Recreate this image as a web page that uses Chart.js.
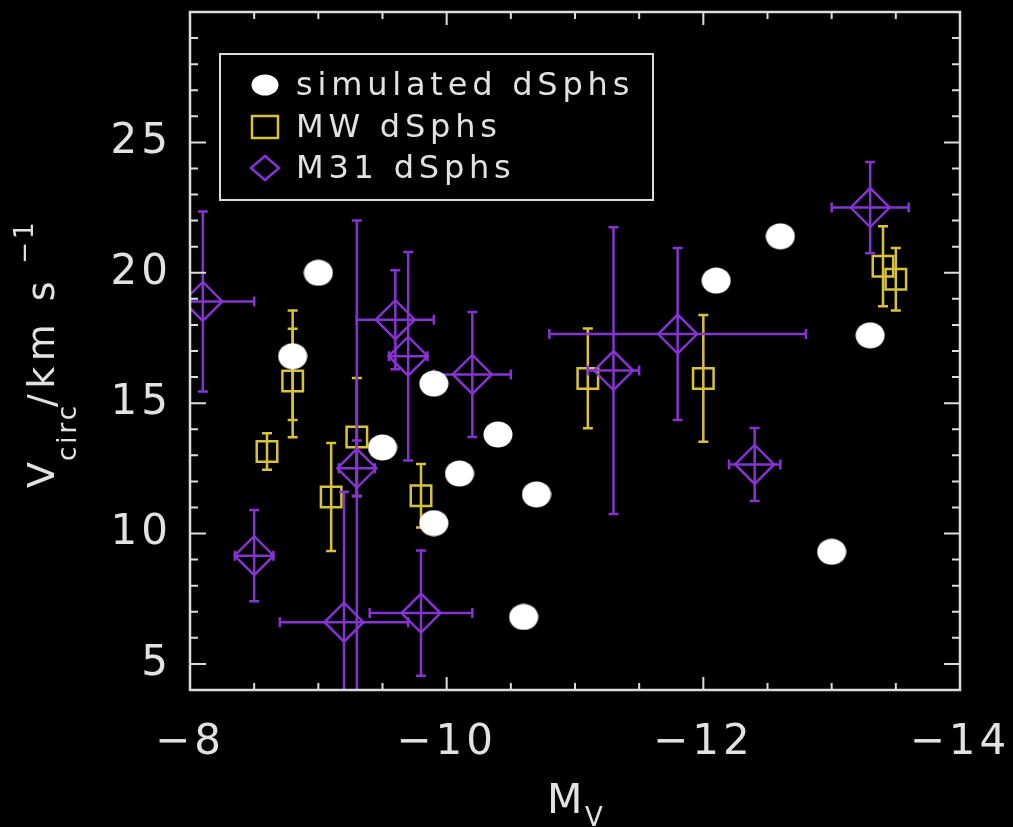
<!DOCTYPE html>
<html>
<head>
<meta charset="utf-8">
<title>Vcirc vs Mv</title>
<script src="https://cdn.jsdelivr.net/npm/chart.js@4.4.0/dist/chart.umd.min.js"></script>
<style>
  body { margin: 0; background: #000; }
  #wrap { width: 1013px; height: 827px; position: relative; }
</style>
</head>
<body>
<div id="wrap"><canvas id="ch1"></canvas></div>
<script>
// simulated dSphs (white dots)
var simMv = [-9.0, -8.8, -9.5, -9.9, -9.9, -10.1, -10.4, -10.7, -10.6, -12.1, -12.6, -13.3, -13.0];
var simV  = [20.0, 16.8, 13.3, 15.75, 10.4, 12.3, 13.8, 11.5, 6.8, 19.7, 21.4, 17.6, 9.3];

// MW dSphs, errors only in Vcirc (up / down), one point has a second (inner) bar
var mwMv       = [-8.6, -8.8, -9.1, -9.3, -9.8, -11.1, -12.0, -13.4, -13.5];
var mwV        = [13.15, 15.85, 11.4, 13.7, 11.45, 15.95, 15.95, 20.25, 19.75];
var mwErrUp    = [0.7, 2.7, 2.07, 2.26, 1.22, 1.91, 2.43, 1.53, 1.2];
var mwErrDown  = [0.7, 2.16, 2.07, 2.26, 1.22, 1.91, 2.43, 1.53, 1.2];
var mwErrUp2   = [null, 2.0, null, null, null, null, null, null, null];
var mwErrDown2 = [null, 1.5, null, null, null, null, null, null, null];

// M31 dSphs, errors in both
var m31Mv     = [-8.1, -8.5, -9.2, -9.3, -9.6, -9.7, -10.2, -11.3, -11.8, -12.4, -13.3, -9.8];
var m31V      = [18.9, 9.15, 6.6, 12.5, 18.2, 16.8, 16.1, 16.25, 17.65, 12.65, 22.5, 6.95];
var m31ErrMv  = [0.4, 0.15, 0.5, 0.14, 0.3, 0.15, 0.3, 0.2, 1.0, 0.2, 0.3, 0.4];
var m31ErrV   = [3.45, 1.75, 5.0, 9.5, 1.9, 4.0, 2.4, 5.5, 3.3, 1.4, 1.75, 2.4];
var m31ErrV2  = [null, null, null, 1.07, null, null, null, null, null, null, null, null];

// labelled ticks (rest are minor)
var xTicks = [-8, -10, -12, -14];
var yTicks = [5, 10, 15, 20, 25];

var legendNames = ['simulated dSphs', 'MW dSphs', 'M31 dSphs'];

var fam = "'DejaVu Sans', sans-serif";
var txtCol = '#e2e2e2';
var axCol = '#dcdcdc';
var yellow = '#d8c23a';
var purple = '#8534d2';

function pts(xs, ys) {
  var out = [];
  for (var i = 0; i < xs.length; i++) out.push({x: xs[i], y: ys[i]});
  return out;
}

// white ellipse used as point style (dots are a bit wider than tall)
function makeDot(w, h) {
  var c = document.createElement('canvas');
  c.width = w; c.height = h;
  var g = c.getContext('2d');
  g.fillStyle = '#ffffff';
  g.beginPath();
  g.ellipse(w / 2, h / 2, w / 2 - 0.5, h / 2 - 0.5, 0, 0, Math.PI * 2);
  g.fill();
  return c;
}
var dot = makeDot(30, 27);
var legDot = makeDot(28, 22);

function vbar(ctx, x, y1, y2, cap) {
  ctx.beginPath();
  ctx.moveTo(x, y1); ctx.lineTo(x, y2);
  ctx.moveTo(x - cap, y1); ctx.lineTo(x + cap, y1);
  ctx.moveTo(x - cap, y2); ctx.lineTo(x + cap, y2);
  ctx.stroke();
}
function hbar(ctx, y, x1, x2, cap) {
  ctx.beginPath();
  ctx.moveTo(x1, y); ctx.lineTo(x2, y);
  ctx.moveTo(x1, y - cap); ctx.lineTo(x1, y + cap);
  ctx.moveTo(x2, y - cap); ctx.lineTo(x2, y + cap);
  ctx.stroke();
}

// error bars, drawn right after each dataset so the layering stays the same
var errPlugin = {
  id: 'errbars',
  afterDatasetDraw: function(chart, args) {
    var ds = chart.data.datasets[args.index];
    if (!ds.errUp && !ds.errX) return;
    var ctx = chart.ctx, xs = chart.scales.x, ys = chart.scales.y, a = chart.chartArea;
    ctx.save();
    ctx.beginPath();
    ctx.rect(a.left, a.top, a.right - a.left, a.bottom - a.top);
    ctx.clip();
    ctx.strokeStyle = ds.borderColor;
    ctx.lineWidth = 2.5;
    ds.data.forEach(function(p, i) {
      var px = xs.getPixelForValue(p.x);
      var py = ys.getPixelForValue(p.y);
      if (ds.errUp) {
        vbar(ctx, px, ys.getPixelForValue(p.y + ds.errUp[i]), ys.getPixelForValue(p.y - ds.errDown[i]), 5);
        if (ds.errUp2 && ds.errUp2[i] != null)
          vbar(ctx, px, ys.getPixelForValue(p.y + ds.errUp2[i]), ys.getPixelForValue(p.y - ds.errDown2[i]), 5);
      }
      if (ds.errX) {
        hbar(ctx, py, xs.getPixelForValue(p.x - ds.errX[i]), xs.getPixelForValue(p.x + ds.errX[i]), 5);
        vbar(ctx, px, ys.getPixelForValue(p.y + ds.errY[i]), ys.getPixelForValue(p.y - ds.errY[i]), 5);
        if (ds.errY2 && ds.errY2[i] != null)
          vbar(ctx, px, ys.getPixelForValue(p.y + ds.errY2[i]), ys.getPixelForValue(p.y - ds.errY2[i]), 5);
      }
    });
    ctx.restore();
  }
};

// black bg + frame with inward ticks on all 4 sides, titles, legend box
var framePlugin = {
  id: 'frame',
  beforeDraw: function(chart) {
    var ctx = chart.ctx;
    ctx.save();
    ctx.fillStyle = '#000';
    ctx.fillRect(0, 0, chart.width, chart.height);
    ctx.restore();
    ctx.letterSpacing = '4px'; // tick labels are spaced out in the original
  },
  afterDraw: function(chart) {
    var ctx = chart.ctx, a = chart.chartArea, xs = chart.scales.x, ys = chart.scales.y;
    ctx.save();
    ctx.strokeStyle = axCol;
    ctx.lineWidth = 2.5;
    ctx.strokeRect(a.left, a.top, a.right - a.left, a.bottom - a.top);
    ctx.lineWidth = 2;
    ctx.beginPath();
    xs.ticks.forEach(function(t) {
      var px = xs.getPixelForValue(t.value);
      var len = xTicks.indexOf(t.value) >= 0 ? 13 : 7;
      ctx.moveTo(px, a.bottom); ctx.lineTo(px, a.bottom - len);
      ctx.moveTo(px, a.top); ctx.lineTo(px, a.top + len);
    });
    ys.ticks.forEach(function(t) {
      var py = ys.getPixelForValue(t.value);
      var len = yTicks.indexOf(t.value) >= 0 ? 16 : 8;
      ctx.moveTo(a.left, py); ctx.lineTo(a.left + len, py);
      ctx.moveTo(a.right, py); ctx.lineTo(a.right - len, py);
    });
    ctx.stroke();

    // x title M_V
    ctx.fillStyle = txtCol;
    ctx.textBaseline = 'alphabetic';
    ctx.textAlign = 'left';
    ctx.letterSpacing = '3px';
    ctx.font = '41px ' + fam;
    ctx.fillText('M', 547, 813);
    ctx.font = '26px ' + fam;
    ctx.fillText('V', 585, 826);

    // y title V_circ/km s^-1, rotated
    ctx.save();
    ctx.translate(54, 356);
    ctx.rotate(-Math.PI / 2);
    var lx = -132;
    ctx.font = '38px ' + fam;
    ctx.fillText('V', lx, 0);
    lx += ctx.measureText('V').width - 2;
    ctx.font = '26px ' + fam;
    ctx.fillText('circ', lx, 22);
    lx += ctx.measureText('circ').width - 4;
    ctx.letterSpacing = '5.5px';
    ctx.font = '38px ' + fam;
    ctx.fillText('/km s', lx, 0);
    lx += ctx.measureText('/km s').width + 12;
    ctx.letterSpacing = '3px';
    ctx.font = '26px ' + fam;
    ctx.fillText('\u22121', lx, -21);
    ctx.restore();

    // legend
    var lgX = a.left + 30, lgY = a.top + 42;
    ctx.strokeStyle = axCol;
    ctx.lineWidth = 2;
    ctx.strokeRect(lgX, lgY, 433, 146);
    var mx = lgX + 45;
    ctx.drawImage(legDot, mx - 14, lgY + 31 - 11);
    ctx.strokeStyle = yellow;
    ctx.lineWidth = 2.5;
    ctx.strokeRect(mx - 13, lgY + 73 - 11, 26, 22);
    ctx.strokeStyle = purple;
    ctx.beginPath();
    ctx.moveTo(mx - 14, lgY + 114); ctx.lineTo(mx, lgY + 102);
    ctx.lineTo(mx + 14, lgY + 114); ctx.lineTo(mx, lgY + 126);
    ctx.closePath();
    ctx.stroke();
    ctx.fillStyle = txtCol;
    ctx.font = '32px ' + fam;
    ctx.letterSpacing = '4.8px';
    ctx.fillText(legendNames[0], lgX + 76, lgY + 41);
    ctx.fillText(legendNames[1], lgX + 76, lgY + 83);
    ctx.fillText(legendNames[2], lgX + 76, lgY + 124);
    ctx.restore();
  }
};

var chart = new Chart(document.getElementById('ch1').getContext('2d'), {
  type: 'scatter',
  data: {
    datasets: [{
      label: legendNames[0],
      data: pts(simMv, simV),
      pointStyle: dot,
      borderColor: '#ffffff',
      backgroundColor: '#ffffff',
      order: 0,
      clip: 0
    }, {
      label: legendNames[1],
      data: pts(mwMv, mwV),
      pointStyle: 'rect',
      pointRadius: 14.5,
      pointBorderWidth: 2.5,
      borderColor: yellow,
      backgroundColor: 'rgba(0,0,0,0)',
      errUp: mwErrUp, errDown: mwErrDown,
      errUp2: mwErrUp2, errDown2: mwErrDown2,
      order: 2,
      clip: 0
    }, {
      label: legendNames[2],
      data: pts(m31Mv, m31V),
      pointStyle: 'rectRot',
      pointRadius: 19.5,
      pointBorderWidth: 2.5,
      borderColor: purple,
      backgroundColor: 'rgba(0,0,0,0)',
      errX: m31ErrMv, errY: m31ErrV, errY2: m31ErrV2,
      order: 1,
      clip: 0
    }]
  },
  options: {
    responsive: true,
    maintainAspectRatio: false,
    animation: false,
    // autoPadding off, otherwise the big diamonds push the plot top down
    layout: { autoPadding: false, padding: { left: 0, top: 12, right: 53, bottom: 0 } },
    plugins: { legend: { display: false }, tooltip: { enabled: false } },
    scales: {
      x: {
        type: 'linear', reverse: true, min: -14, max: -8,
        grid: { display: false, drawTicks: false },
        border: { display: false },
        ticks: {
          stepSize: 0.5, autoSkip: false, maxRotation: 0, padding: 28,
          color: txtCol, font: { family: fam, size: 42 },
          callback: function(v) { return xTicks.indexOf(v) >= 0 ? '\u2212' + Math.abs(v) : ''; }
        },
        afterFit: function(s) {
          s.height = 137;
          s.paddingLeft = 0; s.paddingRight = 0; s.paddingTop = 0; s.paddingBottom = 0;
        }
      },
      y: {
        type: 'linear', min: 4, max: 30,
        grid: { display: false, drawTicks: false },
        border: { display: false },
        ticks: {
          stepSize: 1, autoSkip: false, padding: 18,
          color: txtCol, font: { family: fam, size: 42 },
          callback: function(v) { return yTicks.indexOf(v) >= 0 ? String(v) : ''; }
        },
        afterFit: function(s) {
          s.width = 190;
          s.paddingLeft = 0; s.paddingRight = 0; s.paddingTop = 0; s.paddingBottom = 0;
        }
      }
    }
  },
  plugins: [errPlugin, framePlugin]
});
</script>
</body>
</html>
